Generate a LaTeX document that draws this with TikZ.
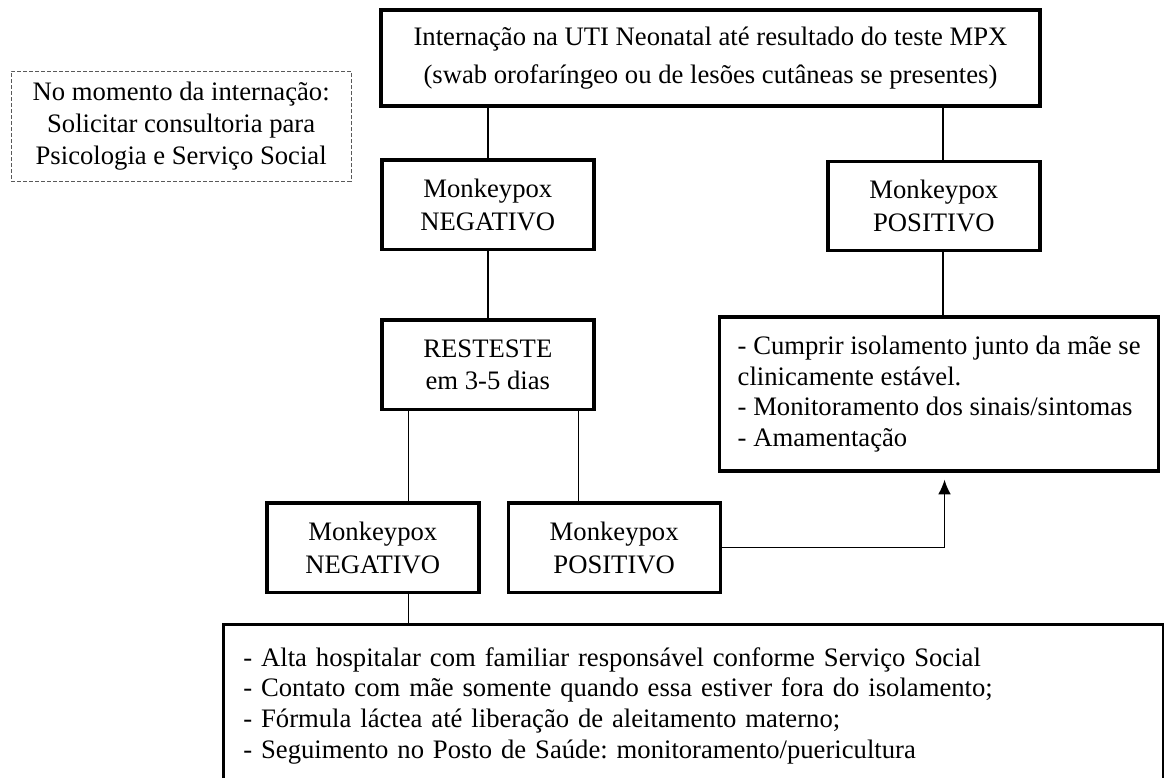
\documentclass[tikz,border=0pt]{standalone}
\usepackage{fontspec}
\setmainfont{Liberation Serif}
\frenchspacing
\usepackage{tikz}
\usetikzlibrary{shapes,arrows.meta}
\tikzstyle{block} = [rectangle, draw, line width=2.5pt, align=center,
minimum width=159pt, minimum height=67pt, inner sep=0pt, font=\fontsize{20}{24.5}\selectfont]
\tikzstyle{listbox} = [block, align=left, font=\fontsize{20}{23}\selectfont]
\tikzstyle{notebox} = [rectangle, draw=black!65, line width=0.7pt, dash pattern=on 3pt off 1.5pt,
align=center, minimum width=255pt, minimum height=82.5pt, inner sep=0pt, font=\fontsize{20}{23.8}\selectfont]
\tikzstyle{line} = [draw, line width=1pt]
\tikzstyle{arrowline} = [line, -{Latex[length=11pt,width=9.5pt]}]

\begin{document}
\begin{tikzpicture}[node distance = 2.2cm, auto]
\useasboundingbox (0,0) rectangle (873pt,-583.5pt);

% Place nodes
\node [block, minimum width=494.25pt, minimum height=72pt, font=\fontsize{20}{28.5}\selectfont] (admit) at (532.875pt,-43.5pt) {Internação na UTI Neonatal até resultado do teste MPX\\(swab orofaríngeo ou de lesões cutâneas se presentes)};
\node [notebox, left of=admit, node distance=397pt, yshift=-51pt] (note) {No momento da internação:\\Solicitar consultoria para\\Psicologia e Serviço Social};
\node [block, below of=admit, node distance=110pt, xshift=-167pt] (neg1) {Monkeypox\\NEGATIVO};
\node [block, right of=neg1, node distance=334.5pt, yshift=-1pt] (pos1) {Monkeypox\\POSITIVO};
\node [block, below of=neg1, node distance=120pt] (reteste) {RESTESTE\\em 3-5 dias};
\node [listbox, below of=pos1, node distance=141pt, xshift=4pt, minimum width=329.25pt, minimum height=115.5pt] (care) {- Cumprir isolamento junto da mãe se\\clinicamente estável.\\- Monitoramento dos sinais/sintomas\\- Amamentação};
\node [block, below of=reteste, node distance=137.25pt, xshift=-86.25pt] (neg2) {Monkeypox\\NEGATIVO};
\node [block, right of=neg2, node distance=181pt] (pos2) {Monkeypox\\POSITIVO};
\node [listbox, below of=neg2, node distance=118.5pt, xshift=240.4pt, text width=675pt, inner xsep=15pt, minimum height=121.5pt] (alta) {- Alta hospitalar com familiar responsável conforme Serviço Social\\- Contato com mãe somente quando essa estiver fora do isolamento;\\- Fórmula láctea até liberação de aleitamento materno;\\- Seguimento no Posto de Saúde: monitoramento/puericultura};
% Draw edges
\path [line] (neg1) -- (neg1 |- admit.south);
\path [line] ([xshift=6.75pt]pos1.north) -- ([xshift=6.75pt]pos1.north |- admit.south);
\path [line] ([xshift=6.75pt]pos1.south) -- ([xshift=6.75pt]pos1.south |- care.north);
\path [line] (neg1) -- (reteste);
\path [line] ([xshift=26.6pt]neg2.north) -- ([xshift=26.6pt]neg2.north |- reteste.south);
\path [line] ([xshift=-26.6pt]pos2.north) -- ([xshift=-26.6pt]pos2.north |- reteste.south);
\path [line] ([xshift=26.6pt]neg2.south) -- ([xshift=26.6pt]neg2.south |- alta.north);
\path [arrowline] (pos2) -| ([xshift=4pt,yshift=-5.25pt]care.south);
\end{tikzpicture}
\end{document}
